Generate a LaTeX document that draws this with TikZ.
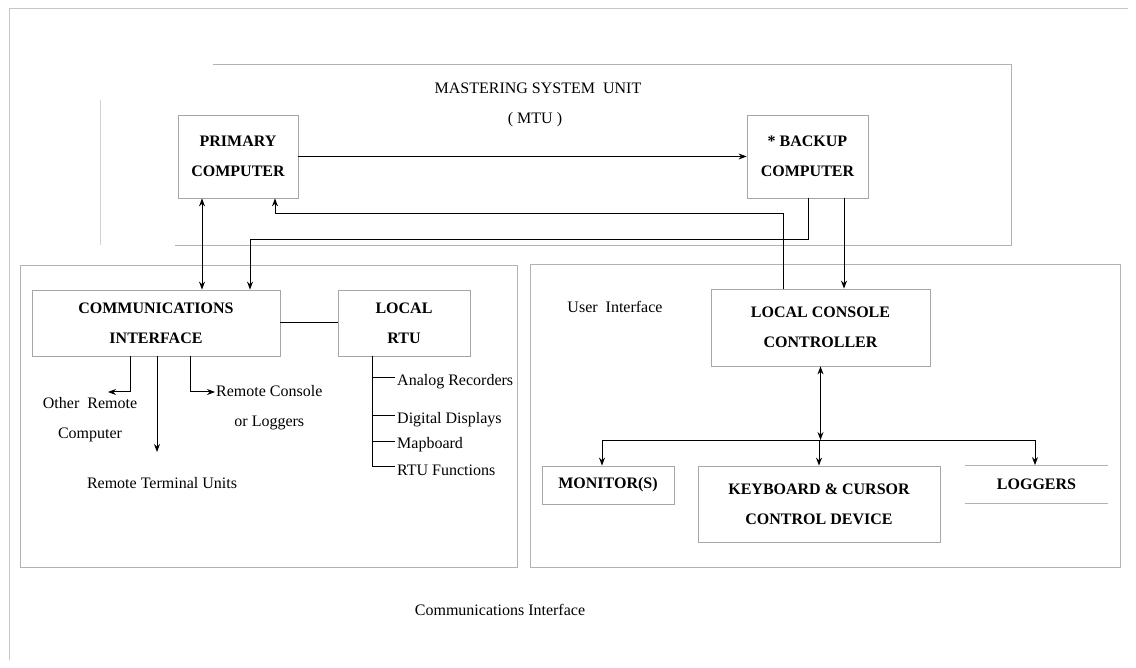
\documentclass[tikz,border=0pt]{standalone}
\usepackage{fontspec}
\setmainfont{Liberation Serif}
\usetikzlibrary{arrows.meta}
\tikzset{
  box/.style={draw=gray!70, line width=0.8pt, align=center, inner sep=0pt,
    font=\fontsize{16}{30}\selectfont\bfseries},
  txt/.style={align=center, inner sep=0pt, font=\fontsize{16}{30}\selectfont},
  wire/.style={line width=1pt},
  frame/.style={draw=gray!60, line width=0.8pt},
}
\begin{document}
\begin{tikzpicture}[x=1pt, y=-1pt, >={Stealth[length=8pt,width=6pt]}]
    \useasboundingbox (0,0) rectangle (1136,668);
    \draw[gray!45, line width=0.8pt] (9,660) -- (9,8) -- (1128,8);

    % MTU
    \draw[frame] (213,64) -- (1011,64) -- (1011,245) -- (175,245);
    \draw[gray!35, line width=0.8pt] (100,100) -- (100,245);
    \node[txt] (mtu) at (538,88) {MASTERING SYSTEM\ \ UNIT};
    \node[txt] (mtuab) at (535,120) {( MTU )};

    \node[box, minimum width=120, minimum height=83] (prim) at (238,156.5) {PRIMARY\\COMPUTER};
    \node[box, minimum width=121, minimum height=83] (backup) at (807.5,156.5) {* BACKUP\\COMPUTER};

    % Communications Interface
    \draw[frame] (20,265) rectangle (517,567);
    \node[txt] (ci) at (500,610) {Communications Interface};

    \node[box, minimum width=248, minimum height=66] (comm) at (156,323) {COMMUNICATIONS\\INTERFACE};
    \node[box, minimum width=132, minimum height=66] (rtu) at (404,323) {LOCAL\\RTU};

    \node[txt] (other) at (90,420) {Other\ \ Remote\\Computer};
    \node[txt] (rtus) at (162,483) {Remote Terminal Units};
    \node[txt, anchor=west] (rcon) at (216,408) {Remote Console\\or Loggers};

    % User Interface
    \draw[frame] (530,264) rectangle (1120,567);
    \node[txt] (ui) at (615,307) {User\ \ Interface};

    \node[box, minimum width=219, minimum height=77] (lcc) at (820.5,327.5) {LOCAL CONSOLE\\CONTROLLER};
    \node[box, minimum width=132, minimum height=38] (mon) at (608,485) {MONITOR(S)};
    \node[box, minimum width=242, minimum height=76] (kbd) at (819,504) {KEYBOARD \& CURSOR\\CONTROL DEVICE};
    \node[box, draw=none, minimum width=143, minimum height=37] (logg) at (1036.5,484) {LOGGERS};
    \draw[frame] (logg.north west) -- (logg.north east) (logg.south west) -- (logg.south east);

    % MTU wires
    \draw[wire, ->] (prim.east) -- (backup.west);
    \coordinate (p1) at (275,214);
    \coordinate (l1) at (783,214);
    \draw[wire, ->] (lcc.north -| l1) -- (l1) -- (p1) -- (prim.south -| p1);
    \coordinate (b1) at (808,240);
    \coordinate (k1) at (250,240);
    \draw[wire, ->] (backup.south -| b1) -- (b1) -- (k1) -- (comm.north -| k1);
    \coordinate (b2) at (844,0);
    \draw[wire, ->] (backup.south -| b2) -- (lcc.north -| b2);
    \coordinate (c0) at (202,0);
    \draw[wire, <->] (prim.south -| c0) -- (comm.north -| c0);

    % comm wires
    \draw[wire] (comm.east) -- (rtu.west);
    \coordinate (o1) at (130,392);
    \coordinate (o2) at (108,392);
    \draw[wire, ->] (comm.south -| o1) -- (o1) -- (o2);
    \coordinate (t1) at (157,452);
    \draw[wire, ->] (comm.south -| t1) -- (t1);
    \coordinate (r1) at (190,392);
    \coordinate (r2) at (215,392);
    \draw[wire, ->] (comm.south -| r1) -- (r1) -- (r2);

    % RTU outputs
    \coordinate (u1) at (372,466);
    \draw[wire] (rtu.south -| u1) -- (u1);
    \foreach \i/\y/\t in {1/382/Analog Recorders, 2/420/Digital Displays, 3/445/Mapboard, 4/470/RTU Functions} {
      \node[txt, anchor=west] (fn\i) at (397,\y) {\t};
      \draw[wire] ([xshift=-2pt, yshift=4pt]fn\i.west) -- ++(-23,0);
    }

    % console bus
    \coordinate (h1) at (602,440);
    \coordinate (h2) at (1035,440);
    \draw[wire] (h1) -- (h2);
    \draw[wire, <->] (lcc.south) -- (lcc.south |- h1);
    \draw[wire, ->] (h1) -- (mon.north -| h1);
    \draw[wire, ->] (kbd.north |- h1) -- (kbd.north);
    \draw[wire, ->] (h2) -- (logg.north -| h2);
\end{tikzpicture}
\end{document}
